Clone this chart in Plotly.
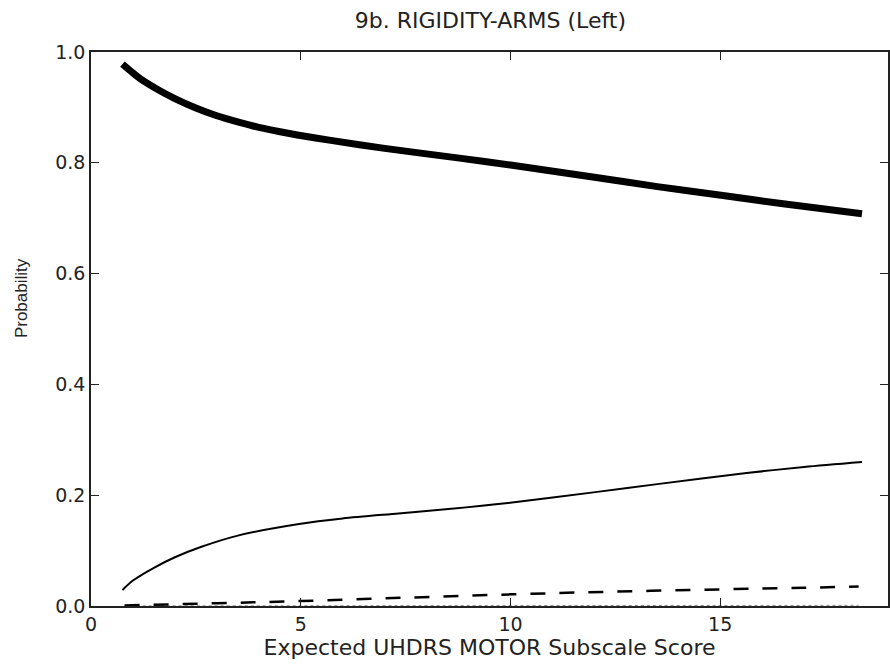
import plotly.graph_objects as go

# Thick curve (highest category)
x_top = [0.75, 1.0, 1.17, 1.6, 2.0, 2.5, 3.0, 3.54, 4.0, 4.73, 5.68, 7.0, 8.83, 10.0, 12.0, 13.5, 15.15, 16.5, 18.38]
y_top = [0.978, 0.962, 0.952, 0.932, 0.916, 0.899, 0.885, 0.873, 0.864, 0.853, 0.841, 0.826, 0.808, 0.796, 0.774, 0.757, 0.740, 0.726, 0.708]

# Thin solid curve
x_mid = [0.75, 1.0, 1.5, 2.0, 2.6, 3.5, 4.96, 6.0, 7.33, 8.52, 9.94, 12.07, 13.5, 15.63, 17.0, 18.38]
y_mid = [0.029, 0.046, 0.069, 0.088, 0.106, 0.127, 0.148, 0.158, 0.167, 0.175, 0.186, 0.206, 0.220, 0.240, 0.251, 0.260]

# Dashed curve
x_dash = [0.8, 3.0, 5.0, 7.5, 10.0, 12.5, 15.0, 17.0, 18.3]
y_dash = [0.001, 0.005, 0.009, 0.015, 0.021, 0.026, 0.030, 0.033, 0.035]

# Dotted curve (near zero)
x_dot = [0.8, 5.0, 10.0, 15.0, 18.3]
y_dot = [0.0003, 0.0005, 0.0008, 0.001, 0.0012]

x_ticks = [0, 5, 10, 15]
y_ticks = [0.0, 0.2, 0.4, 0.6, 0.8, 1.0]
y_tick_text = ["0.0", "0.2", "0.4", "0.6", "0.8", "1.0"]

fig = go.Figure()
fig.add_trace(go.Scatter(x=x_dot, y=y_dot, mode="lines",
                         line=dict(color="#888", width=1, dash="dot", shape="spline")))
fig.add_trace(go.Scatter(x=x_dash, y=y_dash, mode="lines",
                         line=dict(color="black", width=2.5, dash="15px,14px", shape="spline")))
fig.add_trace(go.Scatter(x=x_mid, y=y_mid, mode="lines",
                         line=dict(color="black", width=2, shape="spline", smoothing=0.8)))
fig.add_trace(go.Scatter(x=x_top, y=y_top, mode="lines",
                         line=dict(color="black", width=7, shape="spline", smoothing=0.8)))

axis_common = dict(showline=True, linecolor="#222", linewidth=1.5, mirror="ticks",
                   ticks="inside", ticklen=8, tickcolor="#222", tickwidth=1,
                   showgrid=False, zeroline=False,
                   tickfont=dict(family="DejaVu Sans", size=19, color="#222"))

fig.update_layout(
    width=890, height=666,
    margin=dict(l=91, r=0, t=52, b=60),
    paper_bgcolor="white", plot_bgcolor="white",
    showlegend=False,
    title=dict(text="9b. RIGIDITY-ARMS (Left)", x=0.551, xanchor="center", y=0.97, yanchor="middle",
               font=dict(family="DejaVu Sans", size=22, color="#222")),
    xaxis=dict(range=[0, 19], tickvals=x_ticks, ticktext=[str(v) for v in x_ticks],
               title=dict(text="Expected UHDRS MOTOR Subscale Score", standoff=4,
                          font=dict(family="DejaVu Sans", size=22, color="#222")),
               **axis_common),
    yaxis=dict(range=[0, 1], tickvals=y_ticks, ticktext=y_tick_text, **axis_common),
    annotations=[dict(text="Probability", textangle=-90, xref="paper", yref="paper",
                      x=-0.0864, y=0.556, xanchor="center", yanchor="middle", showarrow=False,
                      font=dict(family="Liberation Sans", size=17, color="#222"))],
)

fig.write_html("out.html")
